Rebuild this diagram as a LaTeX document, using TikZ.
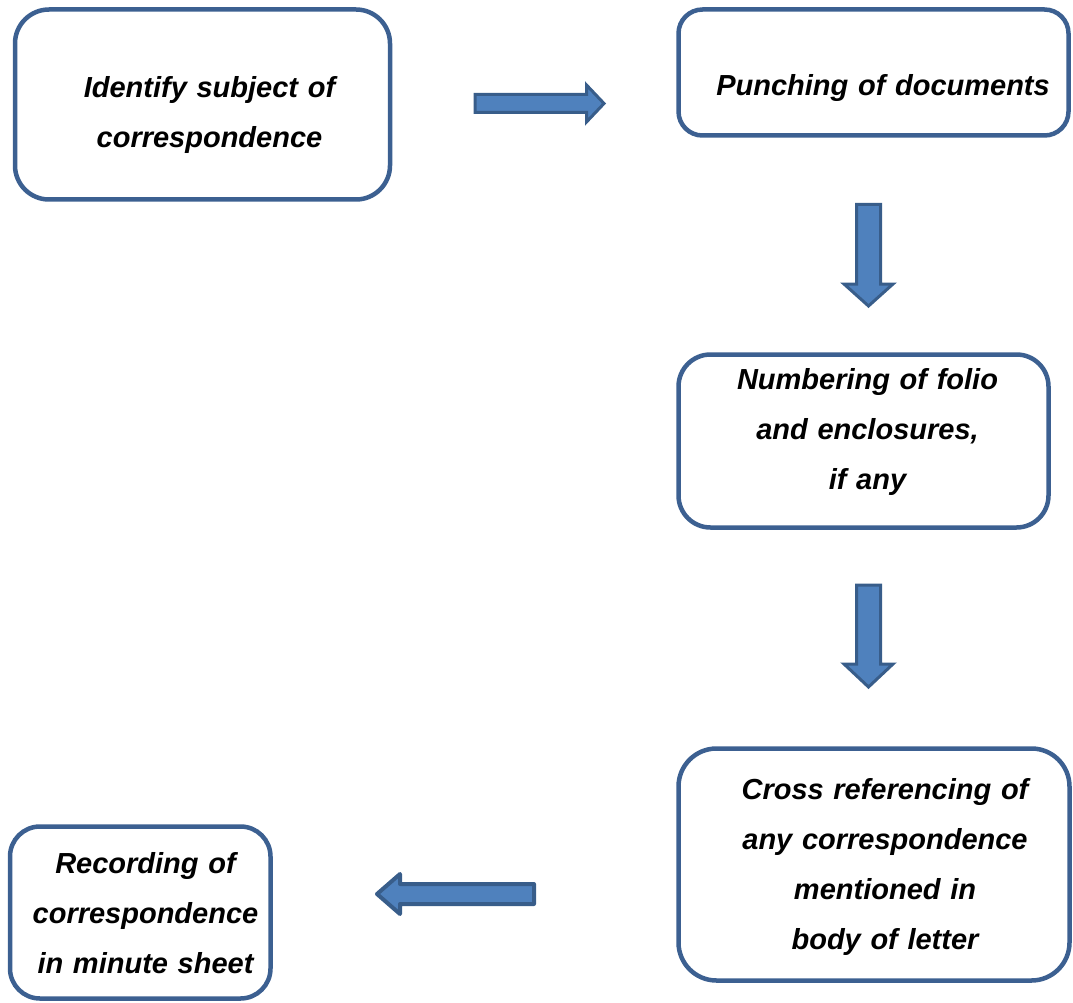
\documentclass[tikz,border=0pt]{standalone}
\usepackage{fontspec}
\setmainfont{Liberation Sans}
\definecolor{boxline}{RGB}{60,96,145}
\definecolor{arrfill}{RGB}{79,129,189}
\definecolor{arrline}{RGB}{56,93,138}
\tikzset{
  stepbox/.style={draw=boxline, line width=4.5pt, fill=white, rectangle, inner sep=0pt, outer sep=0pt},
  steptext/.style={anchor=base, text width=380pt, align=center, inner sep=0pt,
    font=\fontsize{29pt}{50pt}\selectfont\bfseries\itshape},
  blockarrow/.style={fill=arrfill, draw=arrline, line width=3pt, line join=miter},
}
\begin{document}
\begin{tikzpicture}[x=1pt,y=-1pt]
\useasboundingbox (0,0) rectangle (1073,1003);
% boxes
\node[stepbox, rounded corners=34pt, minimum width=375pt, minimum height=190pt] (boxA) at (202.5,104.5) {};
\node[stepbox, rounded corners=24pt, minimum width=390pt, minimum height=126pt] (boxB) at (873.5,72.5) {};
\node[stepbox, rounded corners=32pt, minimum width=370pt, minimum height=173pt] (boxC) at (863.5,441) {};
\node[stepbox, rounded corners=38pt, minimum width=391pt, minimum height=232pt] (boxD) at (874,864.5) {};
\node[stepbox, rounded corners=30pt, minimum width=260.5pt, minimum height=172pt] (boxE) at (140.25,912.5) {};
% texts
\node[steptext] (tA) at (209.5,97.5) {Identify subject of\\correspondence};
\node[steptext] (tB) at (883,95.5) {Punching of documents};
\node[steptext] (tC) at (867.5,389.5) {Numbering of folio\\and enclosures,\\if any};
\node[steptext] (tD) at (885,799.5) {Cross referencing of\\any correspondence\\mentioned in\\body of letter};
\node[steptext] (tE) at (145.5,873.5) {Recording of\\correspondence\\in minute sheet};
% block arrows
\draw[blockarrow] (475,94.5) -- (586.5,94.5) -- (586.5,85) -- (604,103.5) -- (586.5,122) -- (586.5,112.5) -- (475,112.5) -- cycle;
\draw[blockarrow] (856.5,204.5) -- (880.5,204.5) -- (880.5,284) -- (893,284) -- (868.5,306) -- (844,284) -- (856.5,284) -- cycle;
\draw[blockarrow] (856.5,585) -- (880.5,585) -- (880.5,664) -- (893,664) -- (868.5,687) -- (844,664) -- (856.5,664) -- cycle;
\draw[blockarrow, line width=4pt, line join=round] (534,884) -- (400,884) -- (400,874) -- (377,894) -- (400,914) -- (400,904) -- (534,904) -- cycle;
\end{tikzpicture}
\end{document}
